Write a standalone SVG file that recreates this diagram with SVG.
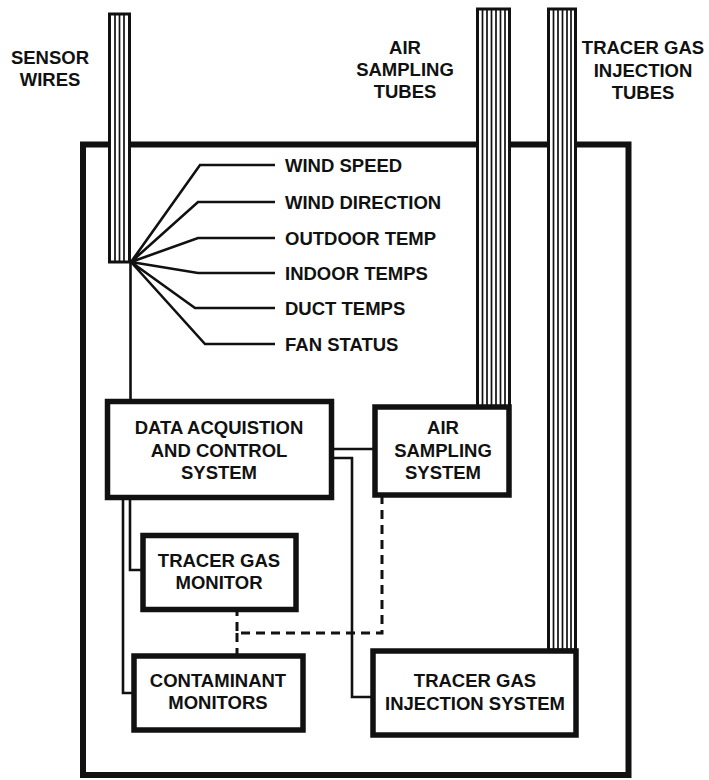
<svg xmlns="http://www.w3.org/2000/svg" width="709" height="780" viewBox="0 0 709 780">
<style>
text{font-family:"Liberation Sans",Arial,sans-serif;font-weight:bold;font-size:18.5px;fill:#111}
.c{text-anchor:middle}
.box{fill:#fff;stroke:#111;stroke-width:5.5}
.ln{fill:none;stroke:#111;stroke-width:2.6}
.dash{fill:none;stroke:#111;stroke-width:3;stroke-dasharray:9 6}
.bun{fill:#fff;stroke:#111;stroke-width:3}
.st{stroke:#111;stroke-width:1.7}
</style>
<rect width="709" height="780" fill="#fff"/>
<g id="enclosure"><rect x="83" y="144.5" width="545.5" height="630.5" fill="none" stroke="#111" stroke-width="6"/></g>
<g id="labels-top">
<text class="c" x="50" y="64">SENSOR</text>
<text class="c" x="50" y="86">WIRES</text>
<text class="c" x="405" y="54">AIR</text>
<text class="c" x="405" y="76">SAMPLING</text>
<text class="c" x="405" y="98">TUBES</text>
<text class="c" x="643" y="54">TRACER GAS</text>
<text class="c" x="643" y="77">INJECTION</text>
<text class="c" x="643" y="99">TUBES</text>
</g>
<g id="connectors">
<path class="ln" d="M131 262 L200 165 H275 M131 262 L198 202 H275 M131 262 L198 238 H275 M131 262 L198 273 H275 M131 262 L195 308 H275 M131 262 L205 344 H275"/>
<path class="ln" d="M130.5 262 V401"/>
<path class="ln" d="M332 449 H373"/>
<path class="ln" d="M332 458 H352 V697 H371"/>
<path class="ln" d="M130 498 V570 H142"/>
<path class="ln" d="M123 498 V693 H133"/>
<path class="dash" d="M382 495 V633 H237 V610"/>
<path class="dash" d="M237 633 V655"/>
</g>
<g id="sensor-wires">
<rect class="bun" x="109.5" y="14" width="20" height="248"/>
<path class="st" d="M115 14 V262 M119.5 14 V262 M124 14 V262"/>
</g>
<g id="air-sampling-tubes">
<rect class="bun" x="477.5" y="9" width="32" height="398"/>
<path class="st" d="M482.5 9 V407 M487 9 V407 M491.5 9 V407 M496 9 V407 M500.5 9 V407 M505 9 V407"/>
</g>
<g id="tracer-gas-injection-tubes">
<rect class="bun" x="548.5" y="9" width="27" height="641"/>
<path class="st" d="M553.5 9 V650 M558 9 V650 M562.5 9 V650 M567 9 V650 M571 9 V650"/>
</g>
<g id="sensor-labels">
<text x="285" y="171.5">WIND SPEED</text>
<text x="285" y="208.5">WIND DIRECTION</text>
<text x="285" y="244.5">OUTDOOR TEMP</text>
<text x="285" y="279.5">INDOOR TEMPS</text>
<text x="285" y="314.5">DUCT TEMPS</text>
<text x="285" y="350.5">FAN STATUS</text>
</g>
<g id="data-acquisition">
<rect class="box" x="107.5" y="401.5" width="224" height="96"/>
<text class="c" x="219" y="433.5">DATA ACQUISTION</text>
<text class="c" x="219" y="456.5">AND CONTROL</text>
<text class="c" x="219" y="478.5">SYSTEM</text>
</g>
<g id="air-sampling-system">
<rect class="box" x="375" y="407" width="134" height="88"/>
<text class="c" x="443" y="433.5">AIR</text>
<text class="c" x="443" y="456.5">SAMPLING</text>
<text class="c" x="443" y="478.5">SYSTEM</text>
</g>
<g id="tracer-gas-monitor">
<rect class="box" x="143" y="535.5" width="153" height="74"/>
<text class="c" x="219" y="566.5">TRACER GAS</text>
<text class="c" x="219" y="588.5">MONITOR</text>
</g>
<g id="contaminant-monitors">
<rect class="box" x="134" y="656" width="169" height="74"/>
<text class="c" x="218" y="686.5">CONTAMINANT</text>
<text class="c" x="218" y="708.5">MONITORS</text>
</g>
<g id="tracer-gas-injection-system">
<rect class="box" x="373" y="651" width="203" height="84"/>
<text class="c" x="475" y="686.5">TRACER GAS</text>
<text class="c" x="475" y="709.5">INJECTION SYSTEM</text>
</g>
</svg>
